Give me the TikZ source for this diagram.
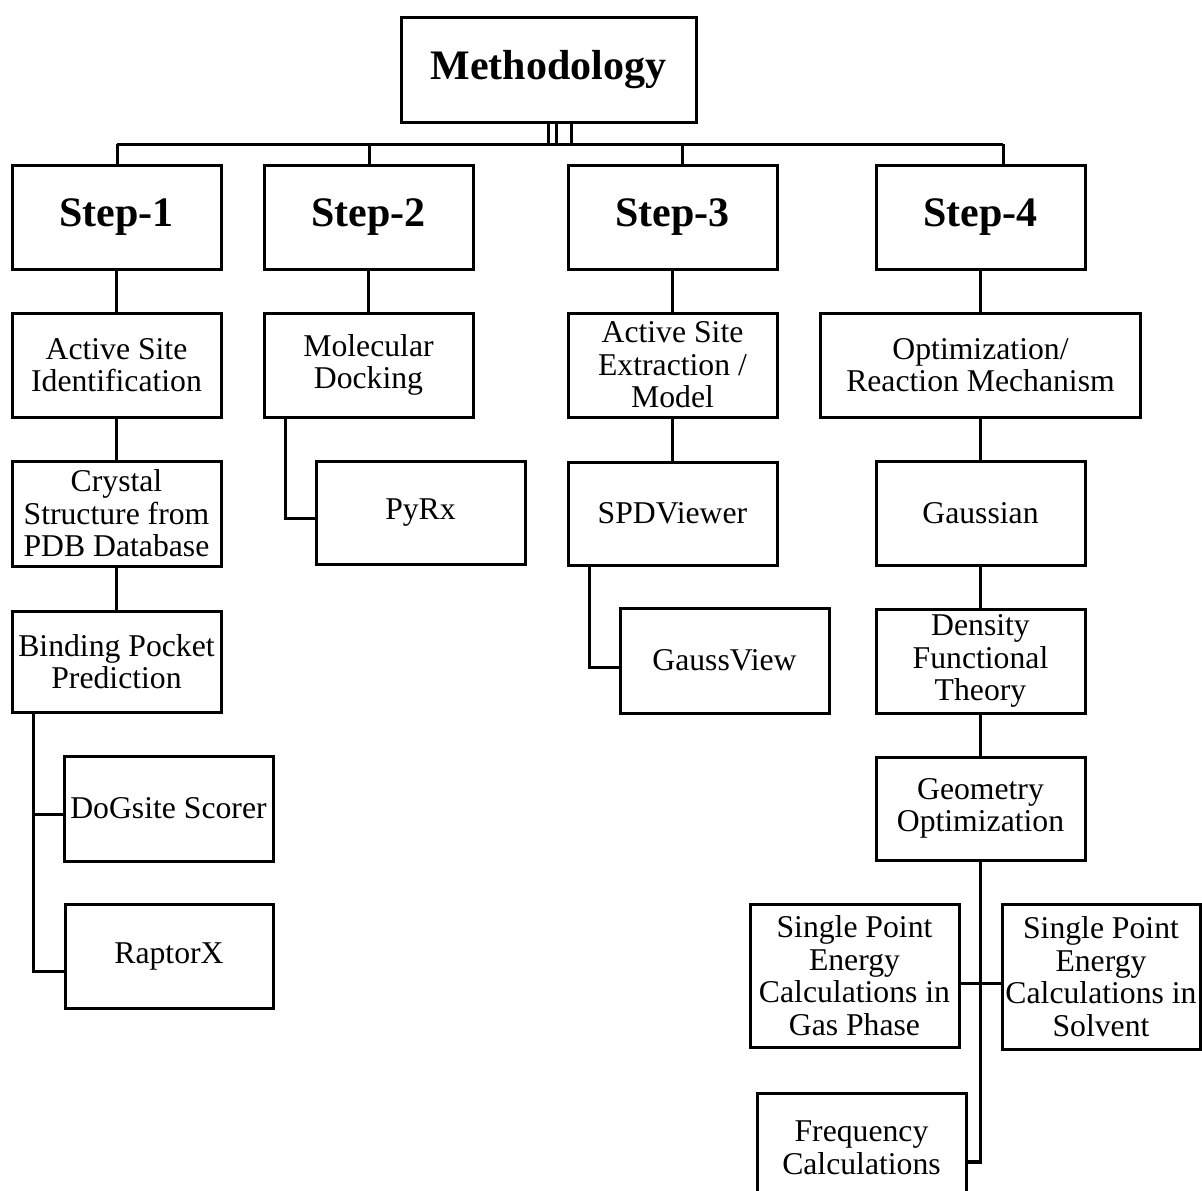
\documentclass[tikz,border=0pt]{standalone}
\usepackage{fontspec}
\setmainfont{Liberation Serif}
\begin{document}
\begin{tikzpicture}[x=1pt,y=-1pt,
  box/.style={draw, line width=3pt, inner sep=0pt, align=center,
    minimum width=209pt, minimum height=104pt,
    font=\fontsize{31.7}{32.5}\selectfont},
  boldbox/.style={box, font=\fontsize{42}{44}\selectfont\bfseries},
  wire/.style={line width=3pt},
  thickwire/.style={line width=3.8pt}]
\useasboundingbox (0,0) rectangle (1202,1191);
\clip (0,0) rectangle (1202,1191);
\fill[white] (0,0) rectangle (1202,1191);

% top
\node[boldbox, minimum width=295pt, minimum height=105pt] (meth) at (548.5,69.5) {Methodology};
\node[boldbox] (s1) at (116.5,217) {Step-1};
\node[boldbox] (s2) at (368.5,217) {Step-2};
\node[boldbox] (s3) at (672.5,217) {Step-3};
\node[boldbox] (s4) at (980.5,217) {Step-4};

% column 1
\node[box] (a1) at (116.5,365) {Active Site\\Identification};
\node[box, minimum height=105pt] (a2) at (116.5,513.5) {Crystal\\Structure from\\PDB Database};
\node[box, minimum height=101pt] (a3) at (116.5,661.5) {Binding Pocket\\Prediction};
\node[box, minimum height=105pt] (a4) at (168.5,808.5) {DoGsite Scorer};
\node[box, minimum width=208pt] (a5) at (169,956) {RaptorX};

% column 2
\node[box] (b1) at (368.5,365) {Molecular\\Docking};
\node[box, minimum height=103pt] (b2) at (420.5,512.5) {PyRx};

% column 3
\node[box] (c1) at (672.5,365) {Active Site\\Extraction /\\Model};
\node[box, minimum height=103pt] (c2) at (672.5,513.5) {SPDViewer};
\node[box, minimum height=105pt] (c3) at (724.5,660.5) {GaussView};

% column 4
\node[box, minimum width=320pt] (d1) at (980.5,365) {Optimization/\\Reaction Mechanism};
\node[box] (d2) at (980.5,513) {Gaussian};
\node[box] (d3) at (980.5,661) {Density\\Functional\\Theory};
\node[box, minimum height=103pt] (d4) at (980.5,808.5) {Geometry\\Optimization};
\node[box, minimum height=143pt] (d5) at (854.5,975.5) {Single Point\\Energy\\Calculations in\\Gas Phase};
\node[box, minimum width=198pt, minimum height=145pt] (d6) at (1101,976.5) {Single Point\\Energy\\Calculations in\\Solvent};
\node[box, minimum height=110pt] (d7) at (861.5,1148) {Frequency\\Calculations};

% junction coordinates
\coordinate (t1) at (117,144);
\coordinate (t2) at (369,144);
\coordinate (t3) at (682,144);
\coordinate (t4) at (1003,144);
\coordinate (m1) at (548,144);
\coordinate (m2) at (556,144);
\coordinate (m3) at (571,144);
\coordinate (p1) at (33,814);
\coordinate (p2) at (33,971);
\coordinate (q1) at (285,518);
\coordinate (r1) at (589,667);
\coordinate (u1) at (980.5,983);
\coordinate (u2) at (980.5,1162);

% connectors
\draw[wire] (meth.south -| m1) -- (m1);
\draw[wire] (meth.south -| m2) -- (m2);
\draw[wire] (meth.south -| m3) -- (m3);
\draw[wire] (t1) -- (t4);
\draw[wire] (t1) -- (t1 |- s1.north);
\draw[wire] (t2) -- (t2 |- s2.north);
\draw[wire] (t3) -- (t3 |- s3.north);
\draw[wire] (t4) -- (t4 |- s4.north);

\draw[wire] (s1.south) -- (a1.north);
\draw[wire] (a1.south) -- (a2.north);
\draw[wire] (a2.south) -- (a3.north);
\draw[wire] (a3.south -| p1) -- (p2) -- (p2 -| a5.west);
\draw[wire] (p1) -- (p1 -| a4.west);

\draw[wire] (s2.south) -- (b1.north);
\draw[wire] (b1.south -| q1) -- (q1) -- (q1 -| b2.west);

\draw[wire] (s3.south) -- (c1.north);
\draw[wire] (c1.south) -- (c2.north);
\draw[wire] (c2.south -| r1) -- (r1) -- (r1 -| c3.west);

\draw[wire] (s4.south) -- (d1.north);
\draw[wire] (d1.south) -- (d2.north);
\draw[wire] (d2.south) -- (d3.north);
\draw[wire] (d3.south) -- (d4.north);
\draw[thickwire] (d4.south -| u1) -- (u2) -- (u2 -| d7.east);
\draw[wire] (u1 -| d5.east) -- (u1 -| d6.west);
\end{tikzpicture}
\end{document}
